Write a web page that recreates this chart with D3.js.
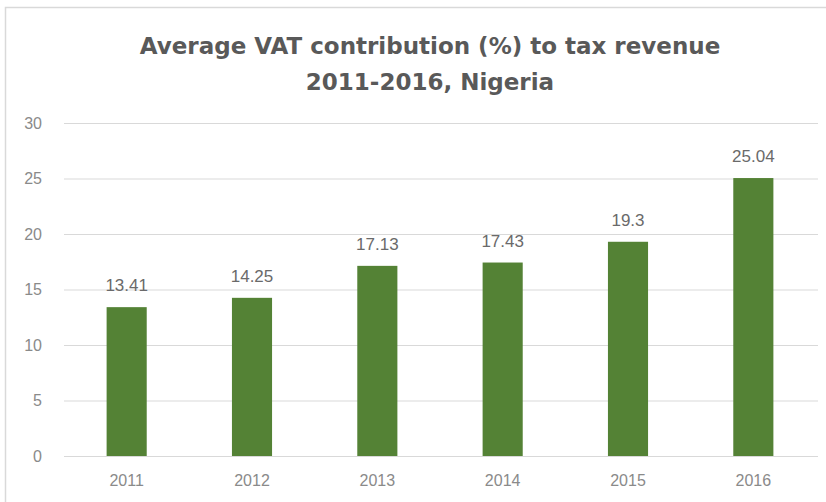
<!DOCTYPE html>
<html><head><meta charset="utf-8">
<script src="https://cdn.jsdelivr.net/npm/d3@7"></script>
<style>body{margin:0;background:#fff}svg{display:block}</style>
</head><body>
<svg id="c" width="826" height="502"></svg>
<script>
const categories = ["2011","2012","2013","2014","2015","2016"];
const values = [13.41, 14.25, 17.13, 17.43, 19.3, 25.04];
const valueLabels = ["13.41","14.25","17.13","17.43","19.3","25.04"];
const yTicks = [0,5,10,15,20,25,30];
const titleLines = ["Average VAT contribution (%) to tax revenue","2011-2016, Nigeria"];

const svg = d3.select("#c");
svg.append("rect").attr("x",5.5).attr("y",7.5).attr("width",830).attr("height",510)
  .attr("fill","#fff").attr("stroke","#d9d9d9").attr("stroke-width",1.5);

const x = d3.scaleBand().domain(categories).range([64, 816]).paddingInner(0.68).paddingOuter(0.34);
const y = d3.scaleLinear().domain([0,30]).range([456,123]);

const g = svg.append("g");
g.selectAll("line.grid").data(yTicks).join("line").attr("class","grid")
  .attr("x1",64).attr("x2",818).attr("y1",d=>y(d)+0.5).attr("y2",d=>y(d)+0.5)
  .attr("stroke","#d9d9d9").attr("stroke-width",1.2);

const font = "Liberation Sans, Arial, sans-serif";
const yAxis = d3.axisLeft(y).tickValues(yTicks).tickSize(0).tickPadding(0);
const ya = svg.append("g").attr("transform","translate(42,0)").call(yAxis);
ya.select(".domain").remove();
ya.selectAll("text").attr("font-family",font).attr("font-size",16).attr("fill","#8a8a8a");

const xAxis = d3.axisBottom(x).tickSize(0).tickPadding(0);
const xa = svg.append("g").attr("transform","translate(0,475)").call(xAxis);
xa.select(".domain").remove();
xa.selectAll("text").attr("font-family",font).attr("font-size",16).attr("fill","#8a8a8a");

g.selectAll("rect.bar").data(values).join("rect").attr("class","bar")
  .attr("x",(d,i)=>x(categories[i])).attr("width",x.bandwidth())
  .attr("y",d=>y(d)).attr("height",d=>y(0)-y(d)).attr("fill","#548235");

g.selectAll("text.lbl").data(values).join("text").attr("class","lbl")
  .attr("x",(d,i)=>x(categories[i])+x.bandwidth()/2).attr("y",d=>y(d)-16)
  .attr("text-anchor","middle").attr("font-family",font)
  .attr("font-size",17).attr("fill","#6a6a6a").text((d,i)=>valueLabels[i]);

svg.selectAll("text.title").data(titleLines).join("text").attr("class","title")
  .attr("x",430).attr("y",(d,i)=>54+i*36).attr("text-anchor","middle")
  .attr("font-family","DejaVu Sans, sans-serif").attr("font-weight","bold")
  .attr("font-size",23).attr("fill","#595959").text(d=>d);
</script>
</body></html>
